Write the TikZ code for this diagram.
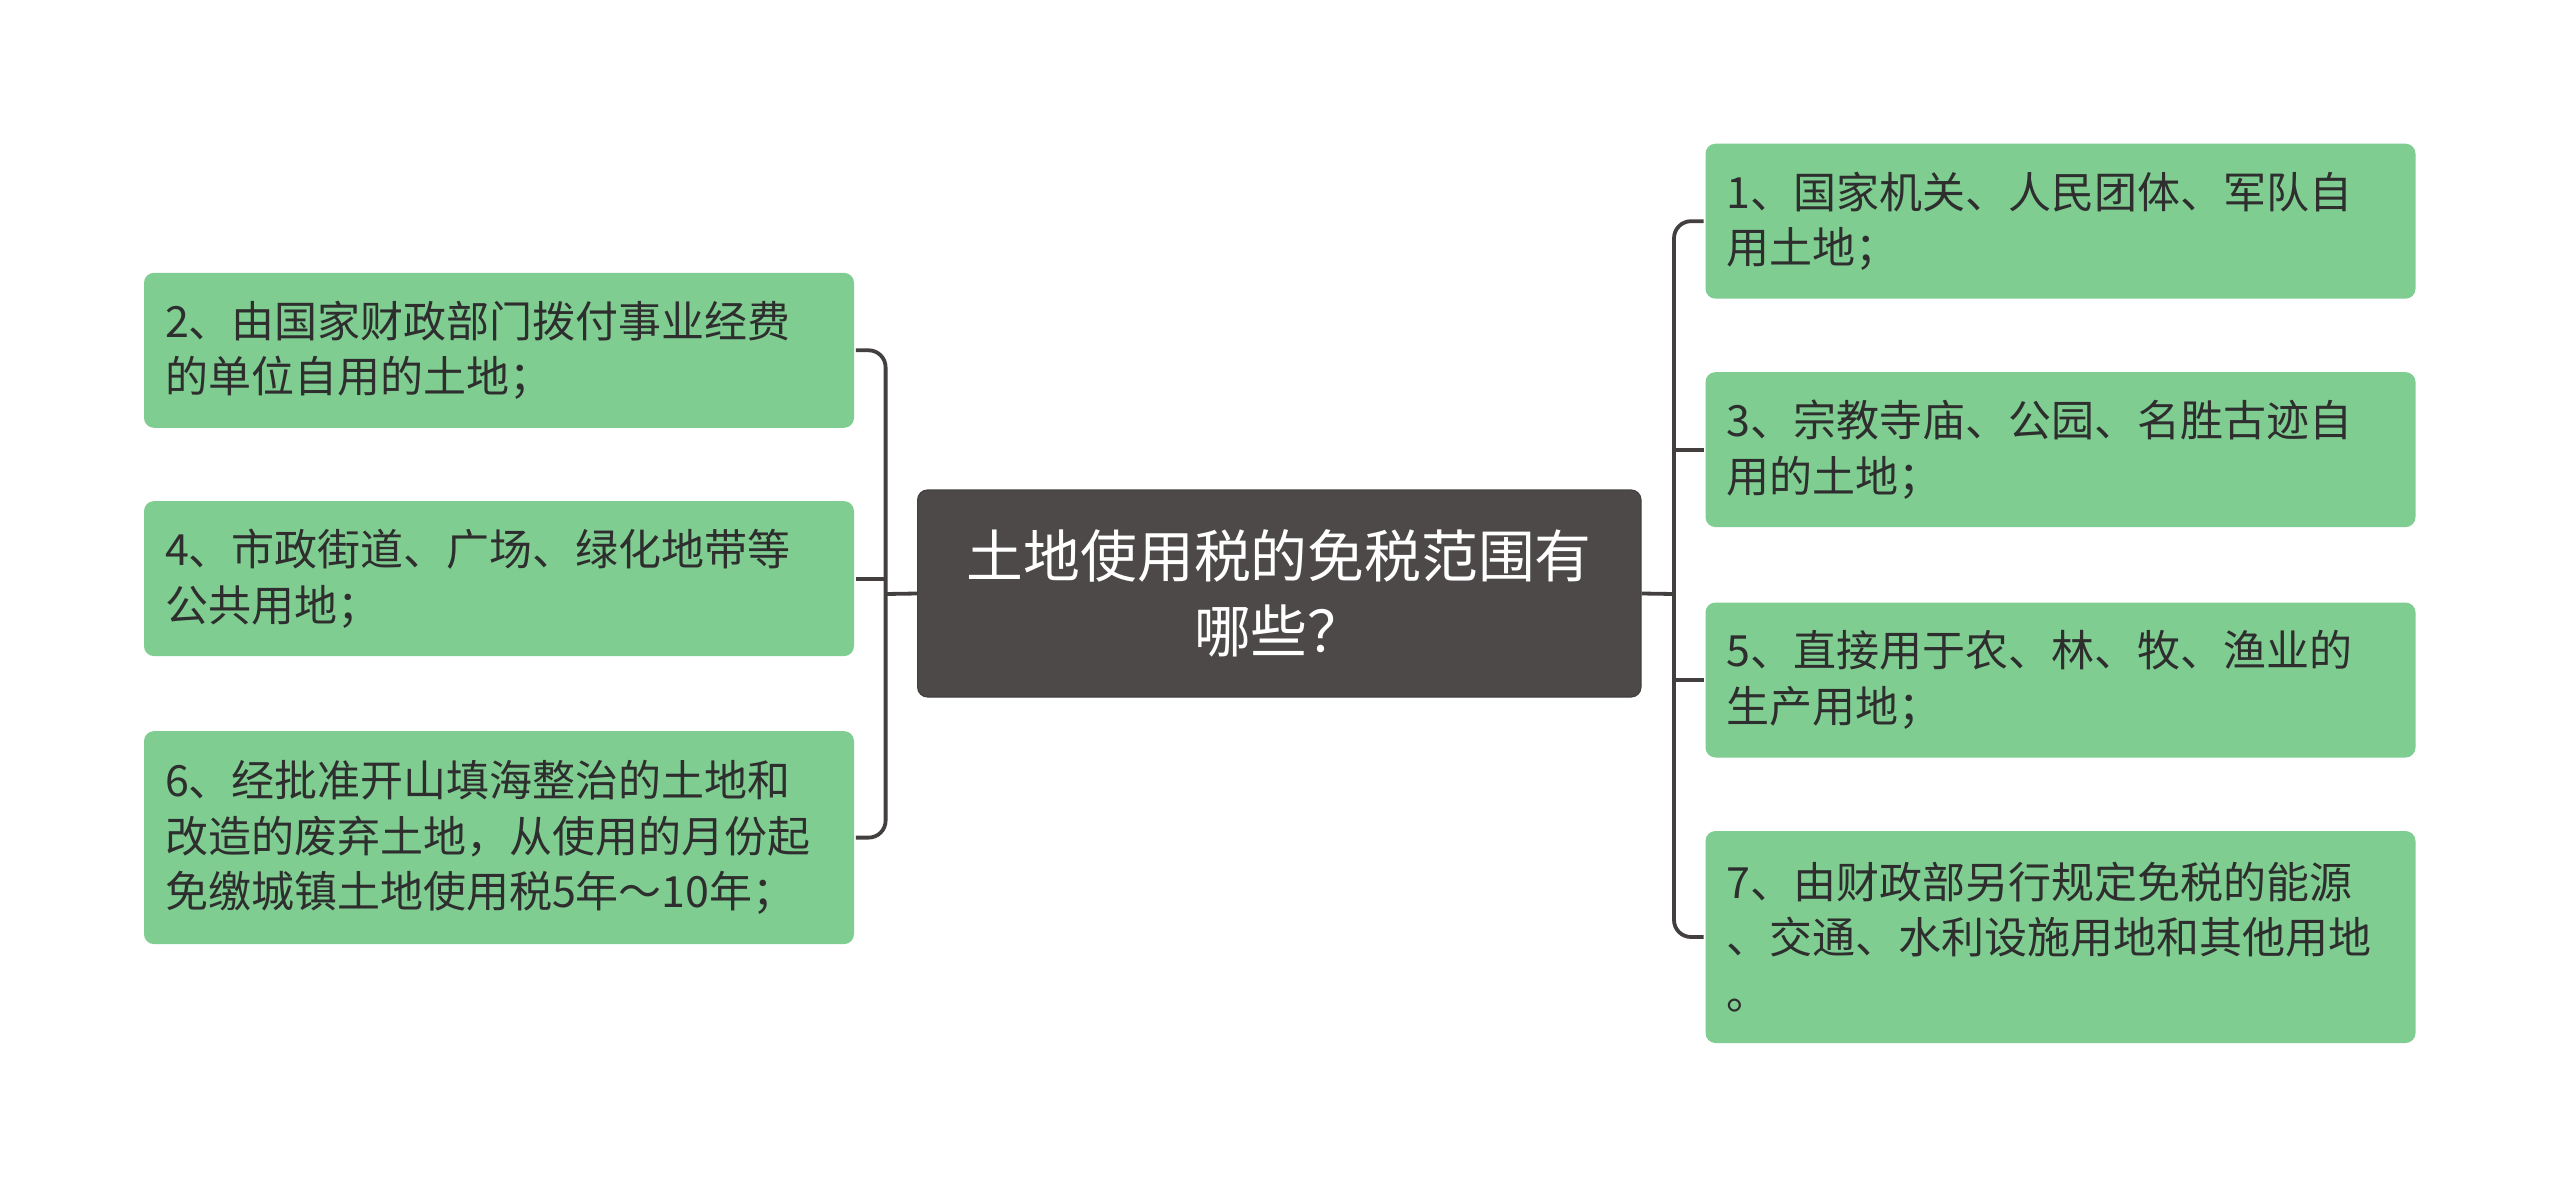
\documentclass[tikz,border=0pt]{standalone}
\usepackage{fontspec}
\setmainfont{Noto Sans CJK SC}
\definecolor{leafgreen}{HTML}{7FCD91}
\definecolor{rootgray}{HTML}{4D4949}
\definecolor{linegray}{HTML}{433F3F}
\definecolor{textgray}{HTML}{2E2E2E}
\begin{document}
\begin{tikzpicture}[x=0.5pt, y=-0.5pt, line width=1.9pt,
  leaf/.style = {fill=leafgreen, rounded corners=5pt, text=textgray, text width=334pt, inner xsep=10.5pt, inner ysep=0pt, align=left, minimum height=77.5pt, font=\fontsize{21.5}{27.75}\selectfont},
  root/.style = {fill=rootgray, draw=linegray, line width=0.6pt, rounded corners=5pt, text=white, text width=330pt, inner xsep=15.85pt, inner ysep=0pt, align=center, minimum height=103.5pt, font=\fontsize{28.4}{37.5}\selectfont},
  link/.style = {draw=linegray, rounded corners=8.5pt}]
    \fill[white] (0,0) rectangle (2560,1189);
    \useasboundingbox (0,0) rectangle (2560,1189);

    \node[root](0) at (1279.3,593.5) {土地使用税的免税范围有\\哪些？};

    \node[leaf](2) at (499,350.3) {2、由国家财政部门拨付事业经费\\的单位自用的土地；};
    \node[leaf](4) at (499,578.6) {4、市政街道、广场、绿化地带等\\公共用地；};
    \node[leaf, minimum height=106.5pt](6) at (499,837.6) {6、经批准开山填海整治的土地和\\改造的废弃土地，从使用的月份起\\免缴城镇土地使用税5年～10年；};

    \node[leaf](1) at (2060.5,221.2) {1、国家机关、人民团体、军队自\\用土地；};
    \node[leaf](3) at (2060.5,449.6) {3、宗教寺庙、公园、名胜古迹自\\用的土地；};
    \node[leaf](5) at (2060.5,680) {5、直接用于农、林、牧、渔业的\\生产用地；};
    \node[leaf, minimum height=106pt](7) at (2060.5,937) {7、由财政部另行规定免税的能源\\、交通、水利设施用地和其他用地\\。};

    \coordinate (lt) at (885.6,594);
    \coordinate (rt) at (1674,594);

    \draw[link] (0.west) -- (lt);
    \draw[link] (2.east) -- (2.east -| lt) -- (6.east -| lt) -- (6.east);
    \draw[link] (4.east) -- (4.east -| lt);

    \draw[link] (0.east) -- (rt);
    \draw[link] (1.west) -- (1.west -| rt) -- (7.west -| rt) -- (7.west);
    \draw[link] (3.west) -- (3.west -| rt);
    \draw[link] (5.west) -- (5.west -| rt);
\end{tikzpicture}
\end{document}
